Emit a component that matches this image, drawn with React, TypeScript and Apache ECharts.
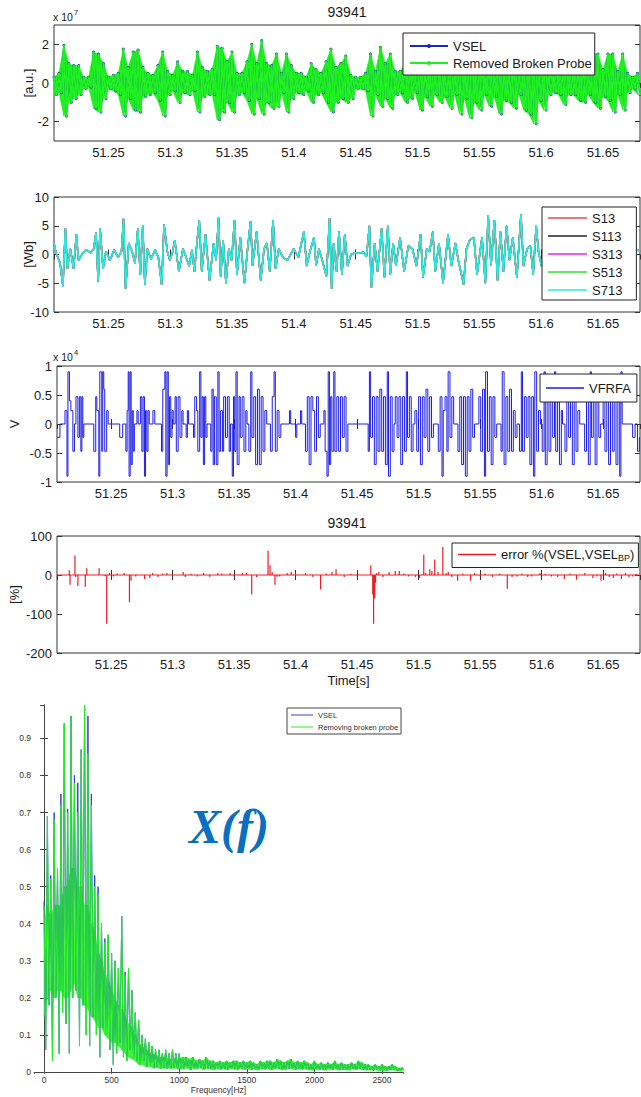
import React, { useEffect, useRef } from "react";
import * as echarts from "echarts";

const FONT = "'Liberation Sans', Arial, sans-serif";
const FONT5 = "'Liberation Sans', Arial, sans-serif";
const TXT = "#1a1a1a";
const AX = "#333333";
const FS = 13;

const T0 = 51.2; // s, base for the ms offsets below
const T_MIN = 51.206;
const T_MAX = 51.68;
const timeTicks = ["51.25", "51.3", "51.35", "51.4", "51.45", "51.5", "51.55", "51.6", "51.65"];

// Panel 1: VSEL / Removed Broken Probe envelope (x1e7 a.u.), one sample every 4 ms from 6 ms
const vselStartMs = 6;
const vselStepMs = 4;
const vselUpper = [
  0.3, 0.5, 1.95, 1.0, 0.9, 0.9, 0.3, 0.3, 1.6, 1.5,
  1.0, 0.3, 0.4, 0.5, 1.75, 0.8, 1.6, 1.7, 0.8, 0.5,
  0.4, 0.9, 1.6, 0.6, 0.4, 1.1, 0.6, 0.6, 0.4, 1.6,
  0.8, 0.6, 0.7, 1.9, 1.8, 1.1, 1.6, 0.5, 0.5, 1.1,
  2.0, 1.0, 2.2, 1.0, 0.9, 1.5, 0.5, 1.5, 0.9, 0.5,
  0.5, 0.3, 1.0, 0.7, 0.5, 1.1, 1.75, 0.8, 1.0, 1.4,
  0.4, 0.3, 0.3, 0.5, 1.5, 0.6, 1.85, 1.0, 1.5, 0.6,
  0.6, 1.0, 0.9, 0.4, 1.3, 0.8, 0.9, 0.5, 1.0, 0.7,
  1.2, 0.6, 1.4, 0.8, 1.5, 0.9, 1.2, 0.6, 1.1, 0.7,
  1.3, 0.8, 0.7, 1.2, 0.6, 1.0, 1.2, 1.5, 0.8, 1.0,
  0.6, 0.5, 0.6, 1.0, 0.7, 0.7, 0.8, 1.1, 0.6, 1.5,
  1.5, 0.7, 1.5, 1.5, 0.6, 1.5, 0.5, 0.3, 0.5,
];
const vselLower = [
  -0.6, -0.5, -1.7, -1.0, -0.8, -0.6, -0.3, -0.2, -1.3, -1.5,
  -0.8, -0.3, -0.4, -0.6, -1.7, -0.8, -1.4, -1.5, -0.7, -0.6,
  -0.5, -0.9, -1.7, -0.6, -0.4, -1.0, -0.5, -0.6, -0.4, -1.5,
  -0.7, -0.6, -0.6, -1.9, -1.5, -1.0, -1.5, -0.6, -0.5, -0.9,
  -1.6, -0.8, -1.6, -1.0, -1.3, -1.2, -0.5, -1.5, -0.8, -0.5,
  -0.6, -0.4, -1.0, -0.6, -0.5, -1.0, -1.5, -1.0, -0.8, -1.0,
  -0.8, -0.3, -0.3, -0.4, -1.7, -0.6, -1.2, -0.8, -1.3, -0.6,
  -0.5, -1.0, -0.8, -0.5, -1.4, -0.7, -1.2, -0.6, -1.0, -0.7,
  -1.3, -0.6, -1.6, -0.8, -1.8, -1.0, -1.4, -0.6, -1.2, -0.7,
  -1.6, -0.9, -1.0, -1.3, -0.6, -1.4, -1.6, -2.1, -0.9, -1.4,
  -0.6, -0.5, -0.6, -1.1, -0.6, -0.6, -0.9, -1.0, -0.6, -1.0,
  -1.3, -0.7, -0.9, -1.5, -0.6, -1.4, -0.5, -0.3, -0.6,
];

// Panel 2: flux [ms after 51.2 s, Wb]
const fluxPoints = [
  [6.0, 2.0], [7.6, 0.3], [10.9, -1.5], [13.2, -5.5], [15.2, 4.5], [16.8, -2.5], [19.2, 1.0], [21.8, -2.5],
  [24.1, 3.5], [25.8, -1.0], [29.1, 0.2], [32.4, 0.8], [35.7, 0.3], [38.0, 0.9], [40.0, 3.8], [41.7, -4.7],
  [43.3, 4.5], [45.7, -2.5], [48.0, 0.5], [51.3, -1.0], [54.6, 0.8], [57.9, -0.5], [60.6, 0.6], [62.2, 6.2],
  [63.9, -6.0], [66.5, 2.0], [69.2, 0.5], [71.5, -1.5], [73.8, 4.5], [75.8, -3.5], [77.8, 5.0], [79.5, -5.2],
  [81.5, 1.0], [84.4, -0.8], [87.8, 0.8], [90.4, -0.5], [93.1, -5.3], [95.0, 5.2], [97.7, 0.5], [99.7, -1.0],
  [102.0, 0.5], [103.7, 2.5], [107.0, -3.0], [110.3, 1.0], [112.9, -0.5], [115.3, -2.0], [117.6, 0.8], [119.6, -3.0],
  [121.6, 2.0], [123.5, 6.0], [125.5, -3.0], [128.5, 3.5], [131.8, -4.5], [135.1, 2.0], [137.1, -1.0], [139.1, 6.4],
  [140.8, -3.8], [142.8, 2.5], [145.1, -5.0], [147.4, 1.0], [149.7, -1.0], [152.0, 6.0], [154.0, -3.5], [156.7, 3.0],
  [160.0, -5.0], [162.6, 1.0], [165.0, 5.8], [166.6, -2.0], [169.9, 4.0], [173.2, -4.5], [175.9, 1.0], [178.2, 2.0],
  [180.5, -3.0], [183.2, 6.0], [185.2, -2.5], [187.8, 1.0], [191.2, -0.5], [194.8, -1.0], [199.8, 1.0], [203.7, -0.5],
  [208.1, 4.0], [210.4, -2.0], [213.0, 0.5], [216.3, 3.0], [218.0, -2.0], [220.3, 1.0], [223.0, -1.0], [226.3, -3.8],
  [228.9, 6.3], [230.6, -6.0], [232.2, 2.0], [234.6, -3.0], [236.5, 4.0], [238.9, -3.5], [241.2, 3.5], [243.5, -2.0],
  [246.2, 0.0], [249.5, 0.3], [252.8, 0.2], [256.1, 0.4], [258.8, -0.3], [261.1, 5.0], [262.7, -5.8], [265.4, 2.0],
  [267.7, -3.0], [271.0, 4.5], [273.3, -4.0], [276.0, 5.0], [278.0, -3.5], [280.3, 2.0], [282.6, -2.0], [285.9, 3.0],
  [289.2, -3.0], [292.6, 1.5], [295.9, 1.0], [299.2, -2.0], [302.5, 3.5], [304.5, -4.0], [307.5, 1.0], [309.8, 0.5],
  [312.4, 4.0], [314.4, -3.0], [317.4, 2.0], [320.7, -5.0], [324.7, 3.5], [327.4, -2.0], [330.7, 2.0], [333.0, -1.0],
  [337.3, -5.2], [339.6, 1.0], [342.3, 2.5], [345.6, 3.0], [348.2, -3.5], [352.2, 3.0], [354.9, -5.0], [357.2, 6.8],
  [359.5, -2.0], [362.2, 6.0], [364.8, -4.5], [367.1, 4.0], [369.5, -3.0], [372.1, 5.0], [374.4, -1.0], [377.1, 3.0],
  [380.4, -4.0], [383.7, 7.0], [385.7, -2.0], [388.7, 1.0], [391.3, 1.5], [393.6, -3.5], [396.0, 5.0], [397.9, 0.5],
  [400.3, -2.0], [403.6, 3.0], [406.9, -3.0], [410.2, 2.0], [413.5, -1.0], [418.5, 0.5], [423.5, -0.5], [428.4, 1.0],
  [433.4, -1.0], [438.4, 0.5], [443.4, -0.5], [448.3, 1.0], [453.3, -1.0], [458.3, 0.5], [463.3, -0.5], [468.2, 0.2],
  [471.5, -1.0], [474.8, 0.5], [478.2, 0.8], [480.0, 0.5],
];

// Panel 3: VFRFA level changes [ms after 51.2 s, x1e4 V]
const vfrfaSteps = [
  [6, -0.23], [8.4, 0], [12.5, 0.23], [14.1, -0.9], [14.9, 0.9], [16.1, 0.4], [17.3, 0.23], [18.9, -0.47], [20.2, 0],
  [21.4, 0.47], [23, -0.23], [24.2, 0.47], [25.4, -0.47], [26.2, 0.47], [27, -0.23], [27.8, 0],
  [35.9, -0.47], [37.5, 0.47], [38.4, 0.23], [40, -0.9], [40.8, 0.9], [42.4, -0.47], [43.2, 0.9], [44, 0.6], [44.8, -0.47],
  [46.4, 0.23], [47.6, 0], [57, -0.23], [59.4, 0],
  [62, -0.47], [63, 0.23], [63.9, 0.9], [64.6, -0.9], [65.5, 0.9], [66.3, -0.7], [67.2, 0.23], [68, -0.47], [68.9, 0],
  [71, 0.23], [72, 0], [73.8, 0.47], [75, -0.47], [76, 0.47], [77.1, -0.9], [78, 0.23], [79, -0.47], [80, 0.23], [81, 0],
  [84, 0.23], [85.5, 0],
  [91, -0.47], [92, 0.6], [93.7, 0.9], [94.5, -0.9], [95.5, 0.9], [96.5, -0.7], [97.5, 0.47], [98.5, -0.23], [99.5, 0.23], [100.5, 0],
  [102, 0.47], [103, -0.47], [104.5, 0.47], [106, -0.23], [107.5, 0.23], [108.5, 0], [111, -0.23], [112, 0.23], [113, 0],
  [117, -0.23], [118, 0.47], [119.5, 0.23], [120.5, -0.47], [122, 0.9], [123, -0.23], [124, 0.47], [125, -0.7], [126, 0.47],
  [127, -0.23], [128, 0],
  [131, -0.47], [132, 0.6], [133, -0.7], [134, 0.47], [135.5, -0.7], [136.8, 0.9], [137.8, -0.47], [139, 0.23], [140.5, -0.47],
  [141.5, 0.47], [143, -0.23], [144.5, 0.47], [146, -0.47], [147, 0],
  [148.5, -0.9], [149.5, 0.47], [150.5, -0.47], [151.5, 0.9], [152.5, -0.7], [154, 0.47], [155, -0.23], [156.5, 0.47],
  [158, -0.47], [159.5, 0.23], [160.5, 0],
  [162, -0.47], [163.5, 0.9], [164.5, -0.23], [166, 0.47], [167.5, -0.7], [169, 0.6], [170.5, -0.7], [172, 0.47],
  [173.5, -0.47], [175, 0.23], [176.5, 0],
  [179.5, -0.47], [181, 0.47], [182.5, 0.9], [183.5, -0.47], [185, 0.23], [186.5, -0.23], [188, 0],
  [195, 0.23], [196, 0], [200, -0.23], [201, 0], [204, 0.23], [205, 0],
  [208, -0.47], [209.5, 0.47], [211, -0.7], [212.5, 0.47], [214, 0.23], [215.5, -0.47], [217, 0.47], [218.5, -0.23], [220, 0],
  [223, 0.23], [224, -0.47], [225.5, -0.9], [226.5, 0.9], [227.5, -0.7], [228.5, 0.47], [229.5, -0.47], [231, 0.9],
  [232, -0.47], [233.5, 0.47], [235, -0.47], [236.5, 0.47], [238, -0.23], [239.5, 0.47], [241, -0.47], [242.5, 0],
  [259, -0.47], [260, 0.9], [261, -0.23], [262.5, 0.47], [264, -0.7], [265.5, 0.47], [267, -0.47], [268.5, 0.6],
  [270, -0.47], [271.5, 0.47], [273, -0.7], [274.5, 0.9], [275.5, -0.9], [277, 0.47], [278.5, -0.47], [280, 0],
  [281, 0.47], [282.5, -0.23], [284, 0.47], [285.5, -0.7], [287, 0.47], [288.5, -0.47], [290, 0.9], [291, -0.23],
  [292.5, 0.47], [294, -0.47], [295.5, 0],
  [297, 0.23], [298.5, -0.47], [300, 0.47], [301.5, -0.7], [303, 0.47], [304.5, -0.23], [306, 0.6], [307.5, -0.47],
  [309, 0.47], [310.5, -0.23], [312, 0],
  [316, -0.47], [317.5, 0.47], [319, -0.9], [320, 0.23], [321.5, 0.47], [323, -0.47], [324, 0.9], [325.5, -0.23],
  [327, 0.47], [328.5, 0],
  [332, -0.47], [333.5, 0.47], [335, -0.7], [336.5, 0.47], [338, -0.9], [339.5, 0.47], [341, -0.47], [342.5, 0.6],
  [344, -0.23], [345.5, 0],
  [349, 0.47], [350.5, -0.47], [352, 0.6], [353.5, -0.9], [354.5, 0.9], [356, -0.47], [357.5, 0.47], [359, -0.7],
  [360.5, 0.47], [362, -0.23], [363.5, 0],
  [367, -0.47], [368, 0.9], [369.5, -0.7], [371, 0.47], [372.5, -0.47], [374, 0.6], [375.5, -0.47], [377, 0.23],
  [378.5, -0.23], [380, 0],
  [382, -0.47], [383.5, 0.9], [384.5, -0.47], [386, 0.47], [387.5, -0.23], [389, 0.47], [390.5, -0.7], [392, 0.47],
  [393.5, -0.9], [394.5, 0.9], [396, -0.47], [397.5, 0.23], [399, 0],
  [400.5, -0.47], [402, 0.9], [403, -0.7], [404.5, 0.47], [406, -0.47], [407.5, 0.47], [409, -0.23], [410.5, 0.9],
  [411.5, -0.47], [413, 0.47], [414.5, -0.7], [416, 0.23], [417, 0],
  [419, -0.47], [420.5, 0.47], [422, -0.23], [423.5, 0.47], [425, -0.7], [426.5, 0.6], [428, -0.47], [429.5, 0.23], [431, 0],
  [435, -0.47], [436.5, 0.47], [438, -0.7], [439.5, 0.9], [440.5, -0.23], [442, 0.47], [443.5, -0.7], [445, 0.47],
  [446.5, -0.23], [448, 0],
  [450, 0.47], [451.5, -0.47], [453, 0.47], [454.5, -0.7], [456, 0.47], [457.5, -0.47], [459, 0.6], [460.5, -0.7],
  [462, 0.47], [463.5, -0.9], [464.5, 0.9], [465.5, 0],
  [474, -0.23], [476, 0], [478, -0.47], [479.5, -0.23], [480, -0.23],
];

// Panel 4: error spikes [ms after 51.2 s, %]
const errorSpikes = [
  [16.0, 12], [16.6, -25], [20.6, 50], [21.2, -5], [23.0, -28], [29.0, -30], [30.2, 17], [40.2, 17], [45.0, -3],
  [46.4, -125], [48.6, 5], [52, -4], [55, 4], [60.6, 5], [64.9, -70], [66.2, -15], [70, -4], [77.2, -10], [81.5, -8],
  [83.8, 5], [88, -5], [92, 4], [95.4, 5], [100, -3], [108.6, 8], [110.3, -5], [115, 3], [120, -4], [125.2, 5],
  [130.2, -5], [136.8, 5], [140, 4], [146.7, 5], [150, -4], [156.7, 5], [160, 5], [164.3, -50], [168.3, -5],
  [177.6, 62], [179.2, 25], [180.9, 8], [183.2, -25], [184.9, -5], [187, -4], [193.1, 5], [196.5, 8], [200, 3],
  [208.1, 5], [214, -5], [220.3, -37], [225, 4], [229.6, 8], [232.9, 15], [239.5, -5], [245, 3], [250, -4],
  [261.1, 25], [262.7, -50], [263.4, -125], [264.4, -60], [265.0, -20], [266.0, 5], [267.7, 8], [271, -5],
  [276, 8], [281, 10], [284.3, 10], [288, 4], [292, -4], [297.5, -5], [300.8, -8], [304.2, 52], [305.8, 5],
  [309.1, 15], [310.8, 10], [313.1, 40], [315.8, 8], [319.7, 72], [322.4, 5], [324.1, 8], [327, -5], [331.7, -15],
  [336, 4], [342.3, -15], [345.6, 5], [350, -4], [354, 4], [360, -5], [366, 4], [372.1, -35], [376, -5], [380, -4],
  [384, 4], [388.7, -5], [392, -4], [398.6, 5], [403, 3], [408, -4], [413, -5], [418.5, -10], [423, 4], [428.4, -12],
  [435, 5], [441.7, -8], [445, -4], [448.3, -15], [452, 5], [455, -5], [458.3, -8], [461, 4], [464.9, -10],
  [468.2, 5], [471, -6], [474, -4], [477, 3],
];

// Panel 5: spectrum, one peak + one trough per 25 Hz bin
const freqStep = 25;
const specGreenHi = [
  0.45, 0.69, 0.52, 0.68, 0.55, 0.72, 0.94, 0.70, 0.96, 0.78, 0.70, 0.87, 0.99, 0.86, 0.72, 0.50, 0.48, 0.40, 0.35, 0.37,
  0.32, 0.30, 0.28, 0.42, 0.26, 0.28, 0.22, 0.16, 0.14, 0.10, 0.09, 0.08, 0.07, 0.06, 0.06, 0.05, 0.06, 0.05, 0.06, 0.05,
  0.05, 0.04, 0.04, 0.035, 0.04, 0.03, 0.035, 0.03, 0.04, 0.03, 0.03, 0.025, 0.03, 0.025, 0.03, 0.025, 0.03, 0.03, 0.025, 0.03,
  0.025, 0.03, 0.025, 0.02, 0.03, 0.025, 0.03, 0.03, 0.025, 0.035, 0.03, 0.025, 0.03, 0.035, 0.025, 0.03, 0.025, 0.03, 0.025, 0.02,
  0.03, 0.02, 0.025, 0.02, 0.025, 0.02, 0.03, 0.02, 0.025, 0.02, 0.02, 0.025, 0.02, 0.03, 0.025, 0.02, 0.02, 0.015, 0.02, 0.015,
  0.02, 0.015, 0.015, 0.02, 0.015, 0.01, 0.012,
];
const specLo = [
  0.06, 0.18, 0.03, 0.20, 0.05, 0.16, 0.13, 0.05, 0.20, 0.22, 0.07, 0.18, 0.10, 0.07, 0.15, 0.10, 0.04, 0.12, 0.10, 0.06,
  0.02, 0.05, 0.08, 0.04, 0.03, 0.06, 0.04, 0.03, 0.02, 0.03, 0.015, 0.02, 0.01, 0.015, 0.01, 0.012, 0.008, 0.01, 0.012, 0.008,
  0.01, 0.008, 0.012, 0.006, 0.01, 0.008, 0.012, 0.006, 0.01, 0.008, 0.006, 0.01, 0.007, 0.009, 0.006, 0.01, 0.008, 0.006, 0.01, 0.007,
  0.009, 0.006, 0.008, 0.005, 0.009, 0.007, 0.01, 0.006, 0.008, 0.01, 0.007, 0.006, 0.009, 0.01, 0.006, 0.008, 0.007, 0.009, 0.006, 0.005,
  0.008, 0.006, 0.007, 0.005, 0.008, 0.006, 0.009, 0.005, 0.007, 0.006, 0.005, 0.008, 0.006, 0.009, 0.007, 0.005, 0.006, 0.004, 0.006, 0.004,
  0.005, 0.004, 0.005, 0.006, 0.004, 0.003, 0.004,
];
const vselHiLowBand = [
  0.46, 0.69, 0.53, 0.70, 0.55, 0.75, 0.94, 0.71, 0.96, 0.80, 0.78, 0.87, 0.99, 0.96, 0.75, 0.53, 0.50, 0.40, 0.36, 0.37,
  0.32, 0.30, 0.28, 0.42, 0.27, 0.28, 0.22, 0.16,
];
// Dense (solid-looking) core of the spectrum, 0..1000 Hz in 25 Hz bins
const specCoreHi = [
  0.40, 0.45, 0.42, 0.45, 0.45, 0.45, 0.50, 0.50, 0.55, 0.55, 0.50, 0.50, 0.45, 0.45, 0.40, 0.38, 0.33, 0.30, 0.27, 0.25,
  0.22, 0.20, 0.18, 0.17, 0.15, 0.13, 0.12, 0.10, 0.08, 0.07, 0.06, 0.055, 0.05, 0.045, 0.04, 0.04, 0.04, 0.035, 0.035, 0.035,
  0.035,
];
const specCoreLo = [
  0.15, 0.20, 0.22, 0.20, 0.22, 0.22, 0.20, 0.20, 0.22, 0.24, 0.20, 0.20, 0.18, 0.17, 0.15, 0.14, 0.12, 0.12, 0.10, 0.09,
  0.08, 0.08, 0.07, 0.06, 0.05, 0.04, 0.035, 0.03, 0.02, 0.02, 0.015, 0.015, 0.012, 0.012, 0.01, 0.01, 0.01, 0.01, 0.01, 0.01,
  0.01,
];

const toS = (ms: number) => +(T0 + ms / 1000).toFixed(5);

function buildOption() {
  const vselData: number[][] = [];
  const p1Band: number[][] = [];
  vselUpper.forEach((u, i) => {
    const t = toS(vselStartMs + vselStepMs * i);
    vselData.push([t, u]);
    vselData.push([toS(vselStartMs + vselStepMs * i + vselStepMs / 2), vselLower[i]]);
    p1Band.push([t, vselLower[i], u]);
  });
  const fluxData = fluxPoints.map(([ms, v]) => [toS(ms), v]);
  const vfrData = vfrfaSteps.map(([ms, v]) => [toS(ms), v]);
  const errData: number[][] = [[T_MIN, 0]];
  [...errorSpikes].sort((a, b) => a[0] - b[0]).forEach(([ms, v]) => {
    const t = toS(ms);
    errData.push([t, 0], [t, v], [t, 0]);
  });
  errData.push([T_MAX, 0]);
  const greenSpec: number[][] = [];
  const blueSpec: number[][] = [];
  const p5Band: number[][] = [];
  specGreenHi.forEach((h, i) => {
    const f = i * freqStep;
    greenSpec.push([f, h], [f + freqStep / 2, specLo[i]]);
    const bh = i < vselHiLowBand.length ? vselHiLowBand[i] : h;
    blueSpec.push([f, bh], [f + freqStep / 2, specLo[i]]);
    const lo = i < specCoreLo.length ? specCoreLo[i] : specLo[i];
    const hi = i < specCoreHi.length ? specCoreHi[i] : h;
    p5Band.push([f, lo, hi]);
  });

  const grids = [
    { left: 54, top: 25, width: 586, height: 116 },
    { left: 54, top: 197, width: 586, height: 115 },
    { left: 54, top: 366, width: 586, height: 116 },
    { left: 54, top: 536, width: 586, height: 117 },
    { left: 34, top: 705, width: 369, height: 367 },
  ].map((g, i) => ({
    ...g,
    show: i < 4,
    borderColor: AX,
    borderWidth: 1,
    backgroundColor: "#ffffff",
  }));

  const tick = (len: number) => ({ show: true, inside: true, length: len, lineStyle: { color: AX, width: 1 } });

  const tAxis = (grid: number, top: boolean, extra: any = {}) => ({
    type: "value",
    gridIndex: grid,
    position: top ? "top" : "bottom",
    min: T_MIN,
    max: T_MAX,
    minInterval: 0.05,
    maxInterval: 0.05,
    axisLine: { show: false },
    axisTick: tick(5),
    axisLabel: {
      show: !top,
      fontFamily: FONT,
      fontSize: FS,
      color: TXT,
      margin: 5,
      showMinLabel: false,
      showMaxLabel: false,
      formatter: (v: number) => {
        const s = String(+v.toFixed(2));
        return timeTicks.includes(s) ? s : "";
      },
    },
    splitLine: { show: false },
    ...extra,
  });

  const yAx = (grid: number, right: boolean, cfg: any) => ({
    type: "value",
    gridIndex: grid,
    position: right ? "right" : "left",
    axisLine: { show: false },
    axisTick: tick(5),
    axisLabel: { show: !right, fontFamily: FONT, fontSize: FS, color: TXT, margin: 5 },
    splitLine: { show: false },
    ...cfg,
  });

  const yName = (name: string, gap: number) => ({
    name,
    nameLocation: "middle",
    nameRotate: 90,
    nameGap: gap,
    nameMoveOverlap: false,
    nameTextStyle: { fontFamily: FONT, fontSize: FS, color: TXT },
  });

  const y1 = { min: -3, max: 3, minInterval: 2, maxInterval: 2 };
  const y1Label = { axisLabel: { fontFamily: FONT, fontSize: FS, color: TXT, margin: 5, showMinLabel: false, showMaxLabel: false } };
  const y2 = { min: -10, max: 10, interval: 5 };
  const y3 = { min: -1, max: 1, interval: 0.5 };
  const y4 = { min: -200, max: 100, interval: 100 };

  const fAxisBase = {
    type: "value",
    gridIndex: 4,
    min: -74,
    max: 2655,
    minInterval: 500,
    maxInterval: 500,
    splitLine: { show: false },
  };

  const xAxis = [
    tAxis(0, false), tAxis(0, true),
    tAxis(1, false), tAxis(1, true),
    tAxis(2, false), tAxis(2, true),
    tAxis(3, false, {
      name: "Time[s]",
      nameLocation: "middle",
      nameGap: 21,
      nameTextStyle: { fontFamily: FONT, fontSize: FS, color: TXT },
    }),
    tAxis(3, true),
    {
      ...fAxisBase,
      position: "bottom",
      axisLine: { show: true, lineStyle: { color: "#444", width: 1 } },
      axisTick: { show: true, inside: true, length: 4, lineStyle: { color: "#444" } },
      axisLabel: {
        fontFamily: FONT5, fontSize: 8.5, color: "#333", margin: 3, showMinLabel: false, showMaxLabel: false,
        formatter: (v: number) => String(Math.round(v)),
      },
      name: "Frequency[Hz]",
      nameLocation: "middle",
      nameGap: 13,
      nameTextStyle: { fontFamily: FONT5, fontSize: 8.5, color: "#333" },
    },
    {
      ...fAxisBase,
      position: "top",
      axisLine: { show: false },
      axisTick: { show: true, inside: true, length: 2, lineStyle: { color: "#666" } },
      axisLabel: { show: false },
    },
  ];

  const y5Base = { type: "value", gridIndex: 4, min: 0, max: 0.99, interval: 0.1, splitLine: { show: false } };
  const yAxis = [
    yAx(0, false, { ...y1, ...y1Label, ...yName("[a.u.]", 19) }), yAx(0, true, y1),
    yAx(1, false, { ...y2, ...yName("[Wb]", 19) }), yAx(1, true, y2),
    yAx(2, false, { ...y3, ...yName("V", 36) }), yAx(2, true, y3),
    yAx(3, false, { ...y4, ...yName("[%]", 36) }), yAx(3, true, y4),
    {
      ...y5Base,
      position: "left",
      axisLine: { show: true, lineStyle: { color: "#444", width: 1 } },
      axisTick: { show: true, inside: true, length: 4, lineStyle: { color: "#444" } },
      axisLabel: { fontFamily: FONT5, fontSize: 8.5, color: "#333", margin: 3, showMaxLabel: false },
    },
    {
      ...y5Base,
      position: "right",
      axisLine: { show: true, lineStyle: { color: "#444", width: 1 } },
      axisTick: { show: true, inside: true, length: 4, lineStyle: { color: "#444" } },
      axisLabel: { show: false },
    },
  ];

  const line = (name: string, xi: number, data: number[][], color: string, width: number, extra: any = {}) => ({
    type: "line",
    name,
    xAxisIndex: xi,
    yAxisIndex: xi,
    data,
    symbol: "none",
    color,
    lineStyle: { color, width },
    itemStyle: { color },
    clip: true,
    animation: false,
    emphasis: { disabled: true },
    ...extra,
  });

  // filled band between a low and a high envelope, drawn through the axes' scales
  const band = (name: string, xi: number, pts: number[][], color: string) => ({
    type: "custom",
    name,
    xAxisIndex: xi,
    yAxisIndex: xi,
    data: pts,
    encode: { x: 0, y: [1, 2] },
    silent: true,
    clip: true,
    z: 2,
    animation: false,
    renderItem: (params: any, api: any) => {
      const i = params.dataIndex;
      if (i >= pts.length - 1) return { type: "group", children: [] };
      const a = pts[i];
      const b = pts[i + 1];
      const points = [
        api.coord([a[0], a[1]]),
        api.coord([a[0], a[2]]),
        api.coord([b[0], b[2]]),
        api.coord([b[0], b[1]]),
      ];
      return {
        type: "polygon",
        shape: { points },
        style: { fill: color, stroke: color, lineWidth: 0.6 },
      };
    },
  });

  const BLUE1 = "#1b25c6";
  const GREEN = "#1ff01f";
  const series = [
    band("p1band", 0, p1Band, GREEN),
    line("VSEL", 0, vselData, BLUE1, 1.6, { symbol: "circle", symbolSize: 3, showSymbol: true, z: 3 }),
    line("Removed Broken Probe", 0, vselData, GREEN, 2, { symbol: "circle", symbolSize: 2, showSymbol: true, z: 4 }),
    line("S13", 2, fluxData, "#e05050", 1.5),
    line("S113", 2, fluxData, "#222222", 1.5),
    line("S313", 2, fluxData, "#ee22ee", 1.5),
    line("S513", 2, fluxData, "#33dd33", 1.5),
    line("S713", 2, fluxData, "#2ee8e8", 1.5),
    line("VFRFA", 4, vfrData, "#1c1ce6", 1, { step: "end" }),
    line("error %(VSEL,VSELBP)", 6, errData, "#ec1c24", 1.2),
    band("p5band", 8, p5Band, "#3cf03c"),
    line("VSEL ", 8, blueSpec, "#3a3ae8", 1, { z: 3 }),
    line("Removing broken probe", 8, greenSpec, "#22ee22", 1, { z: 4 }),
  ];

  const legendBase = {
    orient: "vertical",
    backgroundColor: "#ffffff",
    borderColor: "#222222",
    borderWidth: 1,
    borderRadius: 0,
    selectedMode: false,
    itemWidth: 38,
    itemHeight: 5,
    textStyle: { fontFamily: FONT, fontSize: FS, color: TXT, lineHeight: 14 },
    z: 10,
  };
  const lineIcon = { icon: "rect", itemHeight: 1.5 };
  const legend = [
    { ...legendBase, data: ["VSEL", "Removed Broken Probe"], left: 403, top: 33, itemGap: 3, padding: [6, 3, 5, 6] },
    {
      ...legendBase, ...lineIcon, data: ["S13", "S113", "S313", "S513", "S713"], left: 542, top: 207, itemGap: 4,
      itemWidth: 39, padding: [4, 14, 3, 6],
    },
    { ...legendBase, ...lineIcon, data: ["VFRFA"], left: 540, top: 374, padding: [7, 6, 7, 6] },
    {
      ...legendBase,
      ...lineIcon,
      data: ["error %(VSEL,VSELBP)"],
      left: 452,
      top: 543,
      padding: [5, 4, 5, 6],
      formatter: () => "{a|error %(VSEL,VSEL}{b|BP}{a|)}",
      textStyle: {
        fontFamily: FONT,
        fontSize: FS,
        color: TXT,
        rich: {
          a: { fontFamily: FONT, fontSize: FS, color: TXT },
          b: { fontFamily: FONT, fontSize: 9, color: TXT, padding: [7, 0, 0, 0] },
        },
      },
    },
    {
      ...legendBase,
      icon: "rect",
      data: ["VSEL ", "Removing broken probe"],
      left: 287,
      top: 708,
      itemWidth: 22,
      itemHeight: 1,
      itemGap: 2,
      padding: [2, 3, 2, 4],
      borderColor: "#444",
      textStyle: { fontFamily: FONT5, fontSize: 7.5, color: "#333", lineHeight: 10 },
    },
  ];

  const txt = (text: string, x: number, y: number, size: number, extra: any = {}) => ({
    type: "text",
    x,
    y,
    z: 20,
    style: {
      text,
      fontFamily: FONT,
      fontSize: size,
      fill: TXT,
      align: "left",
      verticalAlign: "middle",
      ...extra,
    },
  });

  const graphic = [
    txt("93941", 347, 12, FS + 1, { align: "center" }),
    txt("93941", 347, 523, FS + 1, { align: "center" }),
    txt("x 10", 53, 17, 10.5),
    txt("7", 74, 12, 7.5),
    txt("x 10", 53, 357, 10.5),
    txt("4", 74, 352, 7.5),
    {
      type: "text",
      x: 229,
      y: 826,
      z: 20,
      style: {
        text: "X(f)",
        fontFamily: "'Liberation Serif', 'Times New Roman', serif",
        fontSize: 48,
        fontStyle: "italic",
        fontWeight: "bold",
        fill: "#0b6fc1",
        align: "center",
        verticalAlign: "middle",
      },
    },
  ];

  return {
    animation: false,
    backgroundColor: "#ffffff",
    grid: grids,
    xAxis,
    yAxis,
    series,
    legend,
    graphic,
  };
}

export default function App() {
  const ref = useRef<HTMLDivElement>(null);
  useEffect(() => {
    document.body.style.margin = "0";
    if (!ref.current) return;
    const chart = echarts.init(ref.current, undefined, { renderer: "svg" });
    chart.setOption(buildOption() as any);
    return () => chart.dispose();
  }, []);
  return (
    <div
      ref={ref}
      style={{ position: "absolute", left: 0, top: 0, width: 641, height: 1097, background: "#ffffff" }}
    />
  );
}
